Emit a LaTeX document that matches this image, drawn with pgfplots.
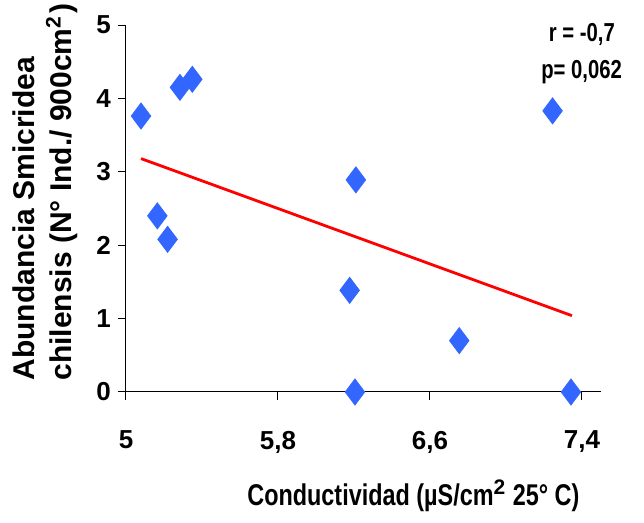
\documentclass[border=0pt]{standalone}
\usepackage{pgfplots}
\pgfplotsset{compat=1.18}
\usepackage{fontspec}
\setmainfont{Liberation Sans}
\newfontfamily\condfont[FakeStretch=0.78]{Liberation Sans}
\definecolor{ptblue}{RGB}{51,102,255}
\begin{document}
\begin{tikzpicture}
\useasboundingbox (-63pt,-65.5pt) rectangle (259pt,196pt);
\begin{axis}[
    scale only axis,
    width=237.5pt, height=183.5pt,
    xmin=5, xmax=7.5, ymin=0, ymax=5,
    axis lines*=left,
    axis line style={black, line width=0.5pt},
    tick align=outside,
    major tick length=4pt,
    tick style={black, line width=0.5pt},
    xtick={5,5.8,6.6,7.4},
    ytick={0,1,2,3,4,5},
    xticklabels={5,{5,8},{6,6},{7,4}},
    font=\bfseries\fontsize{12pt}{14pt}\selectfont,
    ticklabel style={font=\bfseries\fontsize{13pt}{14pt}\selectfont},
    xticklabel style={yshift=-12pt},
    /pgf/number format/assume math mode=true,
    clip=false,
]
\addplot[only marks, mark=diamond*, mark size=6.5pt, color=ptblue, mark options={draw=none, fill=ptblue}] coordinates {
(5.079,3.76) (5.284,4.15) (5.349,4.26) (5.165,2.40) (5.219,2.08)
(6.210,2.89) (6.177,1.385) (6.205,0) (6.754,0.70) (7.245,3.83) (7.342,0)
};
\addplot[red, line width=1.4pt] coordinates {(5.079,3.18) (7.347,1.04)};
\node[anchor=base east, inner sep=0pt, font=\condfont\bfseries\fontsize{13pt}{14pt}\selectfont] at (axis description cs:1.03,0.955) {r = -0,7};
\node[anchor=base east, inner sep=0pt, font=\condfont\bfseries\fontsize{13pt}{14pt}\selectfont] at (axis description cs:1.045,0.855) {p= 0,062};
\node[anchor=base, inner sep=0pt, font=\condfont\bfseries\fontsize{15pt}{17pt}\selectfont] at (axis description cs:0.605,-0.308) {Conductividad (µS/cm$^{\mathbf{2}}$ 25° C)};
\node[rotate=90, anchor=north west, inner sep=0pt, align=left, font=\bfseries\fontsize{15pt}{18.5pt}\selectfont] at (axis description cs:-0.24,0.03) {Abundancia Smicridea\\chilensis (N° Ind./ 900cm$^{\mathbf{2}}$\kern1pt)};
\end{axis}
\end{tikzpicture}
\end{document}
